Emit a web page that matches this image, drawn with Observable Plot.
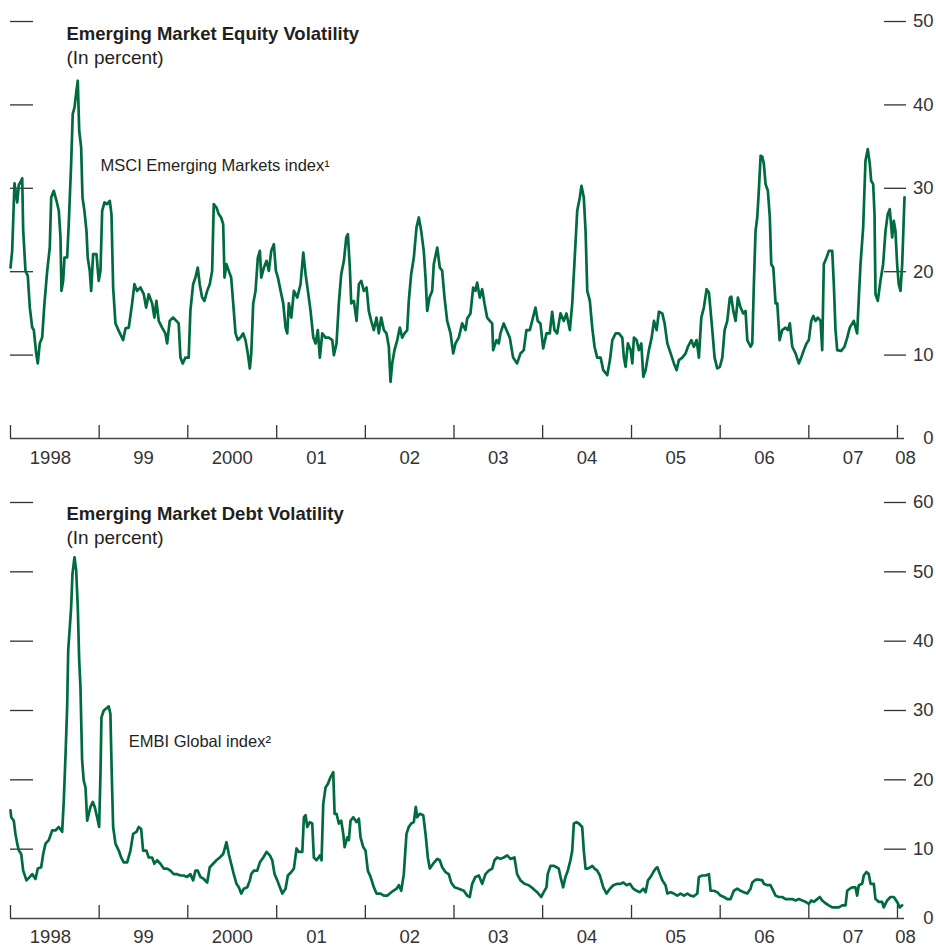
<!DOCTYPE html>
<html><head><meta charset="utf-8">
<script src="https://cdn.jsdelivr.net/npm/d3@7"></script>
<script src="https://cdn.jsdelivr.net/npm/@observablehq/plot@0.6"></script>
<style>
body{margin:0;background:#fff;}
#chart svg{display:block;overflow:visible}
</style></head><body><div id="chart"></div>
<script>
// ---------- data (decimal year, percent) ----------
const equityTitle = "Emerging Market Equity Volatility";
const debtTitle = "Emerging Market Debt Volatility";
const subtitle = "(In percent)";
const equityNote = "MSCI Emerging Markets index\u00b9";
const debtNote = "EMBI Global index\u00b2";

const equity = [
[1998.000,20.5],[1998.019,22.5],[1998.037,28.2],[1998.045,30.6],[1998.076,28.3],[1998.094,30.4],[1998.121,30.9],[1998.132,31.2],[1998.143,25],[1998.169,20.1],
[1998.195,19.5],[1998.218,15.7],[1998.245,13.3],[1998.263,13],[1998.290,10.2],[1998.308,9.0],[1998.330,11.4],[1998.357,12.1],[1998.383,16.2],[1998.414,20.1],
[1998.443,22.9],[1998.459,28.9],[1998.488,29.7],[1998.519,28.5],[1998.545,27.3],[1998.564,24.1],[1998.575,17.7],[1998.594,18.9],[1998.609,21.7],[1998.639,21.7],
[1998.657,25.7],[1998.684,32.9],[1998.702,38.9],[1998.722,39.7],[1998.744,41.7],[1998.759,42.9],[1998.775,36.9],[1998.797,34.9],[1998.812,28.9],[1998.834,27.3],
[1998.857,24.9],[1998.871,21.7],[1998.894,20.1],[1998.910,17.7],[1998.932,22.1],[1998.970,22.1],[1998.995,18.9],
[1999.015,20.1],[1999.034,27.3],[1999.060,28.3],[1999.090,28.1],[1999.120,28.5],[1999.139,26.9],[1999.158,18.1],[1999.184,13.8],[1999.221,12.9],[1999.271,11.8],
[1999.297,13.2],[1999.334,13.3],[1999.372,16.2],[1999.398,18.5],[1999.428,17.7],[1999.466,18.1],[1999.503,17.3],[1999.530,15.7],[1999.559,17.3],[1999.598,16.2],
[1999.623,14.5],[1999.646,16.5],[1999.672,14.1],[1999.710,13.3],[1999.747,12.6],[1999.767,11.4],[1999.796,14.1],[1999.834,14.5],[1999.871,14.1],[1999.897,13.8],
[1999.917,9.7],[1999.943,9.0],[1999.973,9.7],
[2000.010,9.7],[2000.029,15.3],[2000.060,18.5],[2000.086,19.3],[2000.112,20.5],[2000.134,18.5],[2000.161,16.9],[2000.187,16.5],[2000.218,17.7],[2000.247,18.5],
[2000.274,20.1],[2000.292,28.1],[2000.322,27.7],[2000.348,26.9],[2000.375,26.5],[2000.398,25.7],[2000.413,19.3],[2000.435,20.9],[2000.461,20.1],[2000.488,19.3],
[2000.511,16.2],[2000.537,12.6],[2000.563,11.8],[2000.593,12.1],[2000.623,12.6],[2000.649,11.8],[2000.675,10.2],[2000.698,8.4],[2000.714,10.2],[2000.736,16.2],
[2000.762,17.7],[2000.788,21.7],[2000.811,22.5],[2000.826,19.3],[2000.856,20.5],[2000.886,21.3],[2000.912,20.1],[2000.939,22.5],[2000.968,23.3],[2000.991,20.1],
[2001.014,19.3],[2001.044,17.7],[2001.074,16.2],[2001.100,13.3],[2001.119,12.6],[2001.137,16.2],[2001.165,14.5],[2001.194,17.7],[2001.232,16.9],[2001.269,18.5],
[2001.300,22.3],[2001.326,19.7],[2001.352,17.7],[2001.382,15.3],[2001.413,12.1],[2001.439,11.4],[2001.464,13],[2001.487,9.7],[2001.514,12.6],[2001.551,12.1],
[2001.588,12.1],[2001.627,11.8],[2001.645,10],[2001.675,11.4],[2001.701,16.2],[2001.728,19.7],[2001.758,21.3],[2001.785,24.1],[2001.803,24.5],[2001.825,20.5],
[2001.841,16.2],[2001.870,16.5],[2001.901,14.1],[2001.927,18.5],[2001.954,18.9],[2001.983,17.7],
[2002.014,18.1],[2002.039,15.3],[2002.066,14.1],[2002.096,13],[2002.126,14.5],[2002.152,12.6],[2002.179,14.5],[2002.209,13],[2002.239,12.6],[2002.265,11],
[2002.284,6.8],[2002.303,9.0],[2002.329,10.6],[2002.360,11.8],[2002.389,13.3],[2002.416,12.1],[2002.442,12.6],[2002.472,13],[2002.490,16.5],[2002.517,19.7],
[2002.547,21.7],[2002.577,25.3],[2002.603,26.5],[2002.630,24.9],[2002.659,22.5],[2002.679,19.3],[2002.698,15.3],[2002.724,16.9],[2002.754,17.7],[2002.772,20.9],
[2002.811,22.9],[2002.840,20.5],[2002.867,20.1],[2002.893,16.9],[2002.923,14.1],[2002.961,12.6],[2002.991,10.2],
[2003.017,11.4],[2003.054,12.1],[2003.092,13.8],[2003.130,13],[2003.149,14.4],[2003.186,15.0],[2003.216,18.1],[2003.242,17.7],[2003.261,18.7],[2003.291,16.9],
[2003.318,17.9],[2003.344,16.2],[2003.374,14.5],[2003.404,14.1],[2003.431,13.8],[2003.442,10.6],[2003.479,11.8],[2003.505,11.4],[2003.524,12.6],[2003.561,13.8],
[2003.592,13],[2003.629,12.1],[2003.667,9.7],[2003.712,9.0],[2003.750,10.2],[2003.787,10.6],[2003.817,13],[2003.855,13],[2003.882,14.1],[2003.919,15.7],
[2003.945,14.1],[2003.975,13.8],
[2004.006,10.8],[2004.043,12.6],[2004.080,12.6],[2004.107,15.2],[2004.133,13],[2004.163,12.6],[2004.201,15],[2004.238,14.1],[2004.268,15],[2004.306,13],
[2004.333,16.2],[2004.359,21.3],[2004.389,27.3],[2004.418,28.9],[2004.437,30.3],[2004.463,28.9],[2004.483,24.9],[2004.502,17.7],[2004.531,16.5],[2004.558,13.3],
[2004.584,11],[2004.614,9.7],[2004.652,9.7],[2004.682,8.2],[2004.727,7.6],[2004.757,9.4],[2004.784,11.8],[2004.821,12.6],[2004.858,12.6],[2004.896,12.1],
[2004.914,9.7],[2004.933,8.6],[2004.959,11.4],[2004.990,10.6],
[2005.009,9.0],[2005.027,12.1],[2005.057,11.8],[2005.083,10.6],[2005.110,11.4],[2005.133,7.4],[2005.159,8.2],[2005.196,10.6],[2005.227,12.1],[2005.253,14.1],
[2005.283,13],[2005.309,15.2],[2005.347,15],[2005.373,13.8],[2005.404,11.4],[2005.441,10.2],[2005.478,9.0],[2005.508,8.2],[2005.534,9.4],[2005.573,9.7],
[2005.610,10.2],[2005.636,11],[2005.674,11.8],[2005.703,11],[2005.734,11.8],[2005.760,9.7],[2005.787,14.5],[2005.816,15.7],[2005.847,17.9],[2005.873,17.5],
[2005.892,15.3],[2005.911,13],[2005.937,9.7],[2005.967,8.4],[2005.997,8.6],
[2006.024,9.7],[2006.050,13],[2006.080,14.1],[2006.109,16.9],[2006.125,17],[2006.148,15.3],[2006.174,14.1],[2006.200,16.9],[2006.230,15.7],[2006.260,15],
[2006.286,15.3],[2006.306,11.8],[2006.343,11],[2006.362,11.4],[2006.380,18.5],[2006.399,24.9],[2006.418,26.5],[2006.436,29.7],[2006.456,33.9],[2006.475,33.8],
[2006.493,32.9],[2006.512,30.5],[2006.538,29.7],[2006.560,26.5],[2006.576,20.9],[2006.599,20.5],[2006.625,16.2],[2006.644,16.2],[2006.670,11.8],[2006.700,13],
[2006.737,13.3],[2006.763,13],[2006.786,13.8],[2006.813,11],[2006.850,10.2],[2006.887,9],[2006.914,9.7],[2006.944,10.6],[2006.974,11.4],
[2007.000,11.8],[2007.027,14.1],[2007.050,14.7],[2007.076,14.1],[2007.101,14.5],[2007.132,14.1],[2007.151,10.6],[2007.169,20.9],[2007.200,21.7],[2007.226,22.5],
[2007.264,22.5],[2007.282,18.5],[2007.301,13],[2007.320,10.6],[2007.365,10.5],[2007.402,11],[2007.433,12.1],[2007.462,13.3],[2007.507,14.1],[2007.545,12.6],
[2007.564,16.9],[2007.583,20.9],[2007.613,25.3],[2007.639,33.3],[2007.665,34.7],[2007.688,32.9],[2007.703,30.9],[2007.726,30.5],[2007.741,26.9],[2007.752,17.3],
[2007.778,16.5],[2007.808,18.9],[2007.838,20.9],[2007.865,24.9],[2007.890,26.9],[2007.913,27.5],[2007.940,24.1],[2007.958,26.1],[2007.977,24.9],[2007.996,20.9],
[2008.014,18.5],[2008.034,17.7],[2008.053,20.9],[2008.079,28.9]
];

const debt = [
[1998.000,15.6],[1998.008,14.6],[1998.037,14.1],[1998.056,12.2],[1998.076,10.8],[1998.094,9.8],[1998.121,9.3],[1998.143,6.9],[1998.180,5.5],[1998.218,6.0],
[1998.245,6.4],[1998.282,5.7],[1998.308,7.2],[1998.346,7.4],[1998.369,9.3],[1998.395,10.8],[1998.432,11.3],[1998.470,12.7],[1998.507,12.7],[1998.545,13.2],
[1998.583,12.5],[1998.601,17.0],[1998.620,23.3],[1998.639,30.5],[1998.651,38.7],[1998.669,42.0],[1998.684,44.9],[1998.699,49.7],[1998.722,52.1],[1998.741,50.2],
[1998.759,44.9],[1998.775,37.2],[1998.789,33.4],[1998.808,22.8],[1998.826,19.9],[1998.846,18.9],[1998.865,14.1],[1998.883,15.1],[1998.902,16.1],[1998.928,16.8],
[1998.950,16.1],[1998.977,14.6],
[1999.000,13.2],[1999.015,20.9],[1999.026,29.0],[1999.052,30.0],[1999.082,30.3],[1999.108,30.6],[1999.127,29.5],[1999.142,20.9],[1999.158,13.2],[1999.184,10.8],
[1999.221,9.8],[1999.248,8.8],[1999.277,8.1],[1999.316,8.1],[1999.353,9.8],[1999.383,12.2],[1999.421,12.5],[1999.446,13.2],[1999.474,12.9],[1999.496,9.8],
[1999.533,9.8],[1999.559,8.8],[1999.598,8.8],[1999.623,7.9],[1999.654,8.4],[1999.691,7.9],[1999.728,7.2],[1999.767,7.2],[1999.804,6.9],[1999.841,6.4],
[1999.879,6.4],[1999.917,6.2],[1999.954,6.2],[1999.992,6.0],
[2000.029,6.4],[2000.060,5.5],[2000.086,6.9],[2000.112,6.9],[2000.142,6.0],[2000.179,5.7],[2000.218,5.2],[2000.247,7.4],[2000.285,7.9],[2000.322,8.4],
[2000.360,8.8],[2000.398,9.3],[2000.435,11.0],[2000.461,9.3],[2000.488,7.9],[2000.517,6.4],[2000.548,5.0],[2000.574,4.5],[2000.601,3.6],[2000.630,4.3],
[2000.669,4.5],[2000.698,5.5],[2000.714,6.4],[2000.743,6.9],[2000.781,6.9],[2000.811,8.1],[2000.849,8.8],[2000.886,9.6],[2000.923,9.1],[2000.950,8.4],
[2000.976,6.4],
[2001.007,5.5],[2001.036,4.5],[2001.063,3.6],[2001.100,4.3],[2001.126,6.2],[2001.165,6.7],[2001.194,7.2],[2001.224,10.1],[2001.250,9.6],[2001.289,9.6],
[2001.307,14.6],[2001.326,14.9],[2001.345,13.2],[2001.374,13.9],[2001.401,13.7],[2001.419,8.8],[2001.450,8.4],[2001.487,9.1],[2001.506,8.4],[2001.525,16.5],
[2001.551,18.9],[2001.577,19.4],[2001.608,20.4],[2001.638,21.1],[2001.653,15.1],[2001.675,15.1],[2001.701,13.7],[2001.728,14.1],[2001.751,12.2],[2001.766,10.3],
[2001.796,11.7],[2001.814,11.3],[2001.833,14.1],[2001.864,14.6],[2001.901,13.9],[2001.927,14.4],[2001.946,11.7],[2001.976,10.3],
[2002.002,9.8],[2002.028,6.9],[2002.059,6.0],[2002.096,4.5],[2002.126,3.6],[2002.171,3.6],[2002.209,3.3],[2002.247,3.3],[2002.276,3.6],[2002.315,4.0],
[2002.352,4.3],[2002.378,4.8],[2002.405,4.0],[2002.434,6.4],[2002.464,12.2],[2002.490,13.2],[2002.517,13.7],[2002.547,13.9],[2002.569,16.1],[2002.585,14.6],
[2002.614,15.1],[2002.653,14.9],[2002.679,12.2],[2002.705,8.8],[2002.727,7.2],[2002.765,7.9],[2002.811,8.6],[2002.840,8.4],[2002.867,7.4],[2002.904,6.7],
[2002.941,6.4],[2002.968,5.2],
[2003.006,4.5],[2003.054,4.3],[2003.111,4.0],[2003.149,3.3],[2003.178,3.1],[2003.205,5.0],[2003.242,6.0],[2003.280,6.2],[2003.318,5.0],[2003.355,6.4],
[2003.392,6.9],[2003.431,7.2],[2003.457,8.4],[2003.487,8.8],[2003.524,8.6],[2003.561,8.8],[2003.600,9.1],[2003.637,8.6],[2003.682,8.8],[2003.712,6.4],
[2003.750,5.5],[2003.795,5.0],[2003.843,4.8],[2003.893,4.3],[2003.938,3.8],[2003.983,3.1],
[2004.012,3.8],[2004.043,4.5],[2004.057,6.4],[2004.088,7.6],[2004.125,7.6],[2004.156,7.4],[2004.181,7.2],[2004.201,6.0],[2004.231,4.5],[2004.257,6.0],
[2004.283,6.9],[2004.313,8.4],[2004.333,9.8],[2004.351,13.7],[2004.381,13.9],[2004.407,13.7],[2004.445,13.2],[2004.463,9.8],[2004.483,7.2],[2004.508,7.2],
[2004.539,7.4],[2004.558,7.6],[2004.584,7.2],[2004.614,6.9],[2004.644,6.2],[2004.682,4.5],[2004.719,3.6],[2004.757,4.3],[2004.795,4.8],[2004.840,5.0],
[2004.877,5.0],[2004.908,5.2],[2004.945,4.8],[2004.982,5.0],
[2005.020,4.3],[2005.057,4.0],[2005.095,3.8],[2005.133,4.3],[2005.159,3.8],[2005.185,5.5],[2005.215,6.0],[2005.246,6.7],[2005.272,7.2],[2005.291,7.4],
[2005.320,6.4],[2005.347,5.5],[2005.384,4.8],[2005.404,3.6],[2005.441,3.8],[2005.478,3.6],[2005.516,3.3],[2005.553,3.6],[2005.591,3.3],[2005.629,3.6],
[2005.666,3.3],[2005.703,3.2],[2005.742,3.6],[2005.760,6.0],[2005.798,6.2],[2005.835,6.2],[2005.873,6.4],[2005.892,4.0],[2005.929,4.0],[2005.967,3.8],
[2006.004,3.3],[2006.042,3.1],[2006.080,2.8],[2006.117,2.8],[2006.154,4.0],[2006.193,4.3],[2006.230,4.0],[2006.267,3.8],[2006.306,3.6],[2006.343,4.3],
[2006.362,5.2],[2006.399,5.6],[2006.436,5.6],[2006.475,5.5],[2006.493,5.0],[2006.531,4.8],[2006.568,4.8],[2006.587,4.3],[2006.625,3.3],[2006.662,3.1],
[2006.700,3.1],[2006.737,2.8],[2006.774,2.8],[2006.813,2.8],[2006.850,2.6],[2006.887,2.8],[2006.926,2.6],[2006.963,2.4],
[2007.000,2.1],[2007.027,2.6],[2007.056,2.4],[2007.095,2.8],[2007.124,3.1],[2007.151,2.6],[2007.188,2.2],[2007.225,1.9],[2007.264,1.6],[2007.301,1.6],
[2007.338,1.6],[2007.376,1.9],[2007.414,1.9],[2007.433,4.0],[2007.462,4.3],[2007.489,4.5],[2007.526,4.5],[2007.545,3.3],[2007.564,4.8],[2007.602,5.0],
[2007.620,6.2],[2007.650,6.7],[2007.676,6.4],[2007.696,5.0],[2007.733,5.0],[2007.752,2.8],[2007.789,2.4],[2007.827,2.4],[2007.845,1.6],[2007.884,2.6],
[2007.921,3.1],[2007.958,3.1],[2007.996,2.4],[2008.025,1.6],[2008.053,1.9]
];

const yearTicks = [1998,1999,2000,2001,2002,2003,2004,2005,2006,2007,2008];
const yearLabels = ["1998","99","2000","01","02","03","04","05","06","07","08"];
const labelYears = [1998.45,1999.5,2000.5,2001.45,2002.5,2003.5,2004.5,2005.5,2006.5,2007.5,2008.09];
const domainYears = [1998.0, 2008.079];
const equityTicks = [0,10,20,30,40,50];
const debtTicks = [0,10,20,30,40,50,60];

// ---------- helpers ----------
const FONT = '"Liberation Sans",Arial,Helvetica,sans-serif';
const GREEN = "#006b3f";
function toDate(y){
  const yr = Math.floor(y + 1e-9);
  const s = Date.UTC(yr,0,1), e = Date.UTC(yr+1,0,1);
  return new Date(s + (y - yr) * (e - s));
}

function panel({height, marginTop, marginBottom, series, ticks, title, note, titleDy, subDy, noteDx, noteDy, labelDy}) {
  const data = series.map(([t, v]) => ({date: toDate(t), value: v}));
  const labels = yearLabels.map((l, i) => ({date: toDate(labelYears[i]), label: l}));
  const inner = ticks.filter(t => t > 0);
  return Plot.plot({
    width: 936, height, marginLeft: 10, marginRight: 32, marginTop, marginBottom,
    style: {fontFamily: FONT, fontSize: "18px", color: "#333", background: "#fff", overflow: "visible"},
    x: {type: "utc", domain: domainYears.map(toDate)},
    y: {domain: [0, d3.max(ticks)]},
    marks: [
      Plot.axisY(inner, {anchor: "left", tickSize: 23, dx: 23, tickFormat: () => "", label: null, strokeWidth: 1.3}),
      Plot.axisY(inner, {anchor: "right", tickSize: 22, dx: -21, tickFormat: () => "", label: null, strokeWidth: 1.3}),
      Plot.axisY(ticks, {anchor: "right", tickSize: 0, tickPadding: 29, textAnchor: "end", label: null, fontSize: 18.5}),
      Plot.axisX(yearTicks.map(toDate), {anchor: "bottom", tickSize: 13, dy: -13, tickFormat: () => "", label: null, strokeWidth: 1.3}),
      Plot.ruleY([0], {stroke: "#444", strokeWidth: 1.6}),
      Plot.text(labels, {x: "date", text: "label", frameAnchor: "bottom", dy: labelDy, lineAnchor: "middle", fontSize: 18.5, fill: "#333"}),
      Plot.line(data, {x: "date", y: "value", stroke: GREEN, strokeWidth: 2.7, strokeLinejoin: "round"}),
      Plot.text([title], {text: d => d, frameAnchor: "top-left", dx: 56, dy: titleDy, lineAnchor: "bottom", textAnchor: "start", fontWeight: "bold", fontSize: 18.5, fill: "#231f20"}),
      Plot.text([subtitle], {text: d => d, frameAnchor: "top-left", dx: 56, dy: subDy, lineAnchor: "bottom", textAnchor: "start", fontSize: 19, fill: "#231f20"}),
      Plot.text([note], {text: d => d, frameAnchor: "top-left", dx: noteDx, dy: noteDy, lineAnchor: "bottom", textAnchor: "start", fontSize: 16.5, fill: "#231f20"})
    ]
  });
}

const chart = document.getElementById("chart");
chart.append(panel({height: 475, marginTop: 21, marginBottom: 37, series: equity, ticks: equityTicks,
  title: equityTitle, note: equityNote, titleDy: 18.3, subDy: 42.3, noteDx: 90, noteDy: 149, labelDy: 19.5}));
chart.append(panel({height: 472, marginTop: 27, marginBottom: 29, series: debt, ticks: debtTicks,
  title: debtTitle, note: debtNote, titleDy: 17.3, subDy: 41.3, noteDx: 118.3, noteDy: 244.7, labelDy: 18.5}));
</script></body></html>
